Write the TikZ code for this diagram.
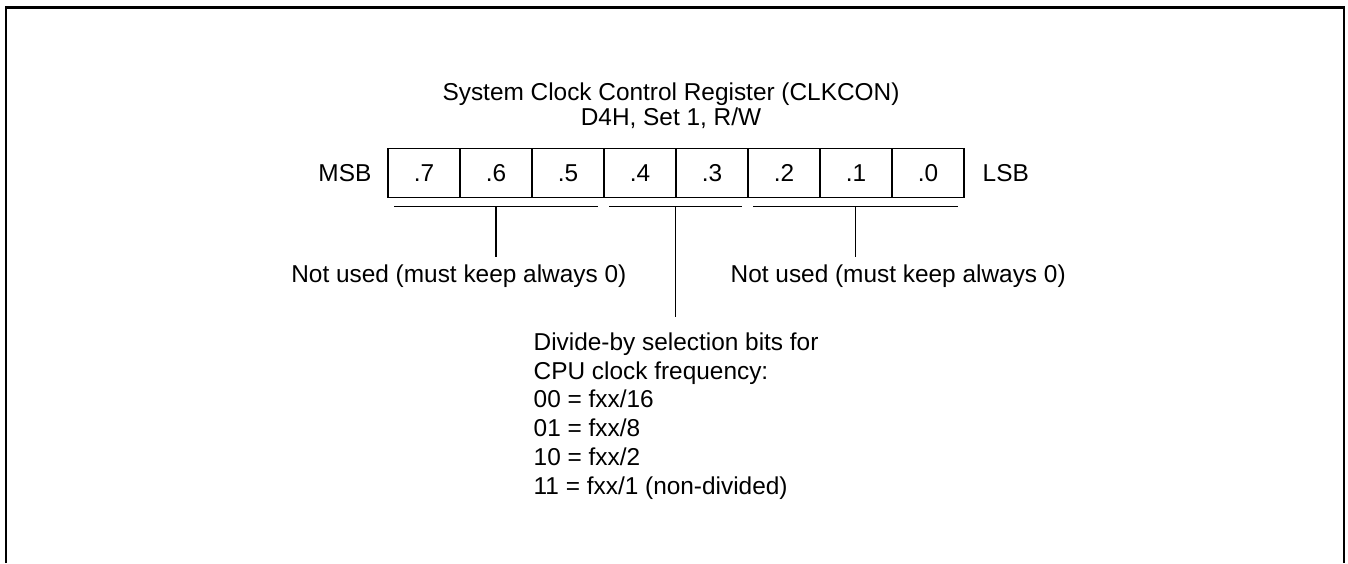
\documentclass[tikz,border=0pt]{standalone}
\usepackage{fontspec}
\setmainfont{Liberation Sans}
\usetikzlibrary{positioning}

\begin{document}
\begin{tikzpicture}[
    x=0.5pt, y=-0.5pt, line width=0.7pt,
    bitcell/.style={draw, minimum width=36pt, minimum height=24.25pt, inner sep=0pt, outer sep=0pt, font=\fontsize{12.2}{14.4}\selectfont},
    txt/.style={inner sep=0pt, font=\fontsize{12.2}{14.4}\selectfont},
    bracket/.style={line width=0.7pt}
]
    \useasboundingbox (0,0) rectangle (1348,563);
    % open frame
    \draw[line width=1.4pt] (6,563) -- (6,7.5) -- (1344,7.5) -- (1344,563);

    \node[txt, align=center, anchor=north, font=\fontsize{12.2}{12.5}\selectfont] (title) at (671,82)
        {System Clock Control Register (CLKCON)\\D4H, Set 1, R/W};

    % register cells
    \foreach \b [count=\k from 0] in {7,...,0}
        \node[bitcell] (b\b) at ({424+72*\k},173) {.\b};
    \node[txt, left=8pt of b7] (msb) {MSB};
    \node[txt, right=9pt of b0] (lsb) {LSB};

    % bit groups
    \draw[bracket] ([shift={(6,9)}]b7.south west) -- ([shift={(-6,9)}]b5.south east) coordinate[pos=0.5] (g1);
    \draw[bracket] ([shift={(5,9)}]b4.south west) -- ([shift={(-6,9)}]b3.south east) coordinate[pos=0.5] (g2);
    \draw[bracket] ([shift={(5,9)}]b2.south west) -- ([shift={(-6,9)}]b0.south east) coordinate[pos=0.5] (g3);
    \draw[bracket] (g1) -- ++(0,51) coordinate (t1);
    \draw[bracket] (g2) -- ++(0,111) coordinate (t2);
    \draw[bracket] (g3) -- ++(0,51) coordinate (t3);

    \node[txt, anchor=base east] (unused1) at (627,282) {Not used (must keep always 0)};
    \node[txt, anchor=base west] (unused2) at (730,282) {Not used (must keep always 0)};
    \node[txt, align=left, anchor=north west] (divsel) at (533,332)
        {Divide-by selection bits for\\CPU clock frequency:\\00 = fxx/16\\01 = fxx/8\\10 = fxx/2\\11 = fxx/1 (non-divided)};
\end{tikzpicture}
\end{document}
